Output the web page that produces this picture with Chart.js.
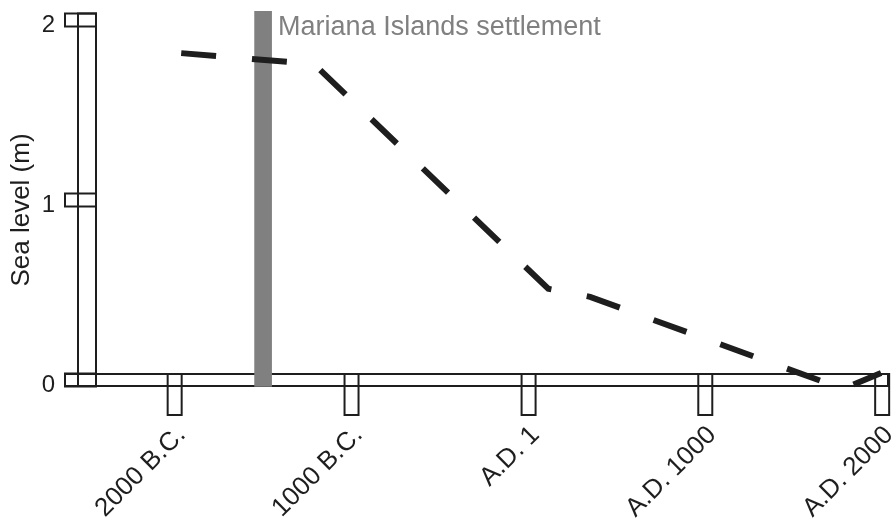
<!DOCTYPE html>
<html>
<head>
<meta charset="utf-8">
<script src="https://cdn.jsdelivr.net/npm/chart.js@4"></script>
<style>
  html, body { margin: 0; padding: 0; background: #fff; }
  canvas { display: block; }
</style>
</head>
<body>
<canvas id="seaLevel" width="894" height="525"></canvas>
<script>
// sea level curve (years, negative = B.C.)
const YEARS = [-1963, -1212, 112, 349, 1779, 1994];
const SEA_LEVEL = [1.816, 1.755, 0.507, 0.462, -0.05, 0.039];

const X_TICKS = [-2000, -1000, 1, 1000, 2000];
const X_TICK_LABELS = ["2000 B.C.", "1000 B.C.", "A.D. 1", "A.D. 1000", "A.D. 2000"];
const Y_TICKS = [0, 1, 2];
const Y_TICK_LABELS = ["0", "1", "2"];

const SETTLEMENT_YEAR = -1500;
const SETTLEMENT_SPAN = [-0.035, 2.05];
const SETTLEMENT_LABEL = "Mariana Islands settlement";
const Y_TITLE = "Sea level (m)";

const FONT = '"Liberation Sans", Arial, sans-serif';
const INK = "#1e1e1e";

// boxy axes, drawn under the data
const boxAxes = {
  id: "boxAxes",
  beforeDatasetsDraw(chart) {
    const { ctx, chartArea: a, scales: { x, y } } = chart;
    const y0 = y.getPixelForValue(0);
    const yTop = y.getPixelForValue(2);
    ctx.save();
    ctx.strokeStyle = INK;
    ctx.lineWidth = 2;

    // x axis bar
    ctx.strokeRect(a.left, y0 - 6, a.right - a.left, 12);
    // y axis bar
    ctx.strokeRect(a.left + 13, yTop - 6.5, 18, y0 + 6 - (yTop - 6.5));

    ctx.fillStyle = INK;
    ctx.font = "24px " + FONT;
    ctx.textAlign = "right";
    ctx.textBaseline = "alphabetic";
    Y_TICKS.forEach((v, i) => {
      const py = y.getPixelForValue(v);
      ctx.strokeRect(a.left, py - 6.5, 31, 13);
      ctx.fillText(Y_TICK_LABELS[i], a.left - 10, py + 12);
    });

    ctx.font = "26px " + FONT;
    X_TICKS.forEach((v, i) => {
      const px = x.getPixelForValue(v);
      ctx.strokeRect(px - 7, y0 - 6, 14, 41);
      ctx.save();
      ctx.translate(px + 12, y0 + 56);
      ctx.rotate(-Math.PI / 4);
      ctx.fillText(X_TICK_LABELS[i], 0, 0);
      ctx.restore();
    });

    // y title
    ctx.save();
    ctx.font = "26px " + FONT;
    ctx.textAlign = "center";
    ctx.translate(29, 210);
    ctx.rotate(-Math.PI / 2);
    ctx.fillText(Y_TITLE, 0, 0);
    ctx.restore();

    // settlement label
    ctx.fillStyle = "#808080";
    ctx.font = "27px " + FONT;
    ctx.textAlign = "left";
    ctx.fillText(SETTLEMENT_LABEL, x.getPixelForValue(SETTLEMENT_YEAR) + 15, a.top + 24);
    ctx.restore();
  }
};

new Chart(document.getElementById("seaLevel").getContext("2d"), {
  type: "line",
  data: {
    datasets: [
      {
        label: "Sea level",
        data: YEARS.map((yr, i) => ({ x: yr, y: SEA_LEVEL[i] })),
        borderColor: INK,
        borderWidth: 6,
        borderDash: [35, 36],
        borderCapStyle: "butt",
        pointRadius: 0,
        tension: 0,
        fill: false,
        clip: false,
        order: 1
      },
      {
        type: "bar",
        label: SETTLEMENT_LABEL,
        data: [{ x: SETTLEMENT_YEAR, y: SETTLEMENT_SPAN }],
        backgroundColor: "#808080",
        borderWidth: 0,
        barThickness: 17,
        order: 2
      }
    ]
  },
  options: {
    responsive: false,
    animation: false,
    layout: { padding: { left: 65, right: 6, top: 11, bottom: 136 } },
    plugins: { legend: { display: false }, tooltip: { enabled: false } },
    scales: {
      x: { type: "linear", min: -2620, max: 2033, offset: false, display: false },
      y: { type: "linear", min: -0.05, max: 2.05, display: false }
    }
  },
  plugins: [boxAxes]
});
</script>
</body>
</html>
